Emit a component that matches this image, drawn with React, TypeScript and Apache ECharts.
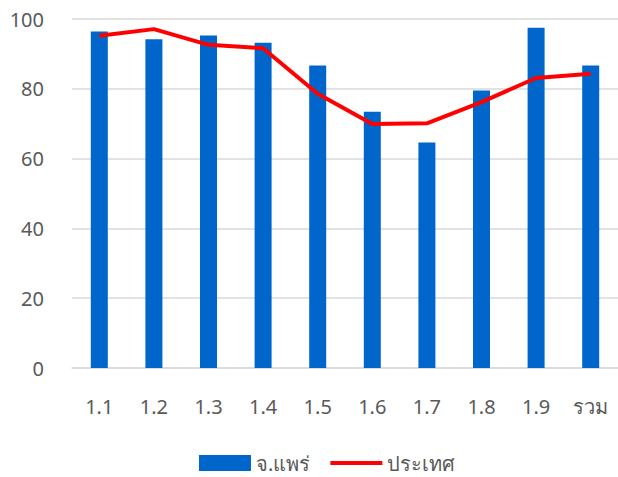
import React, { useEffect, useRef } from "react";
import * as echarts from "echarts";

const categories = ["1.1", "1.2", "1.3", "1.4", "1.5", "1.6", "1.7", "1.8", "1.9", "รวม"];
const phraeValues = [96.4, 94.2, 95.3, 93.2, 86.7, 73.4, 64.6, 79.5, 97.5, 86.7];
const countryValues = [95.2, 97.1, 92.6, 91.6, 78.6, 69.9, 70.1, 76.2, 83.1, 84.3];
const seriesNames = ["จ.แพร่", "ประเทศ"];

export default function App() {
  const ref = useRef<HTMLDivElement>(null);
  useEffect(() => {
    if (!ref.current) return;
    const chart = echarts.init(ref.current, null, { renderer: "svg" });
    const font = "'Noto Sans', 'Open Sans', sans-serif";
    chart.setOption({
      animation: false,
      textStyle: { fontFamily: font },
      grid: { left: 72, top: 19, width: 555, bottom: 109, containLabel: false },
      legend: {
        top: 452,
        left: 199,
        padding: 0,
        itemGap: 20,
        itemWidth: 52,
        itemHeight: 16,
        symbolKeepAspect: true,
        textStyle: { fontSize: 20, lineHeight: 22, color: "#595959", fontFamily: font },
        data: [
          { name: seriesNames[0], icon: "rect" },
          { name: seriesNames[1], icon: "path://M0,0H54V4H0Z" },
        ],
      },
      xAxis: {
        type: "category",
        data: categories,
        axisTick: { show: false },
        axisLine: { lineStyle: { color: "#d9d9d9", width: 1.5 } },
        axisLabel: { color: "#595959", fontSize: 20, margin: 28, fontFamily: font },
      },
      yAxis: {
        type: "value",
        min: 0,
        max: 100,
        interval: 20,
        axisLine: { show: false },
        axisTick: { show: false },
        splitLine: { lineStyle: { color: "#d9d9d9", width: 1.5 } },
        axisLabel: { color: "#595959", fontSize: 20, margin: 28, fontFamily: font },
      },
      series: [
        {
          name: seriesNames[0],
          type: "bar",
          data: phraeValues,
          barWidth: 17,
          itemStyle: { color: "#0066CC" },
        },
        {
          name: seriesNames[1],
          type: "line",
          data: countryValues,
          symbol: "none",
          showSymbol: false,
          lineStyle: { color: "#FF0000", width: 4 },
          itemStyle: { color: "#FF0000" },
        },
      ],
    });
    return () => chart.dispose();
  }, []);
  return <div ref={ref} style={{ width: 618, height: 477, position: "absolute", left: 0, top: 0 }} />;
}
